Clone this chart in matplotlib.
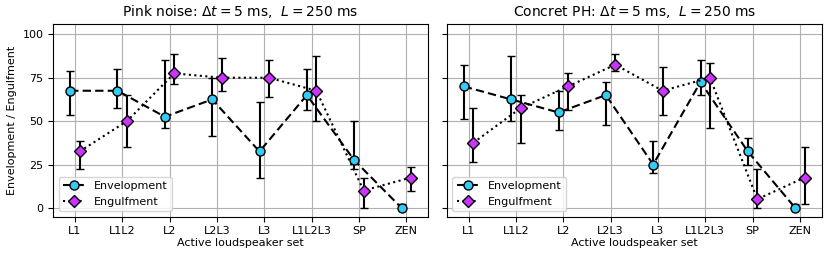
import numpy as np
import matplotlib
matplotlib.use("Agg")
import matplotlib.pyplot as plt

sets = ["L1", "L1L2", "L2", "L2L3", "L3", "L1L2L3", "SP", "ZEN"]
titles = [r"Pink noise: $\Delta t = 5$ ms,  $L = 250$ ms",
          r"Concret PH: $\Delta t = 5$ ms,  $L = 250$ ms"]

# median, lower and upper quartile per set
env_pink = [67.5, 67.5, 52.5, 62.5, 32.5, 65.0, 27.5, 0.0]
env_pink_lo = [53.75, 57.5, 46.25, 41.25, 17.5, 56.25, 22.5, 0.0]
env_pink_hi = [78.75, 80.0, 85.0, 75.0, 61.25, 80.0, 50.0, 2.5]
eng_pink = [32.5, 50.0, 77.5, 75.0, 75.0, 67.5, 10.0, 17.5]
eng_pink_lo = [22.5, 35.0, 71.25, 67.5, 63.75, 50.0, 0.0, 10.0]
eng_pink_hi = [38.75, 65.0, 88.75, 86.25, 85.0, 87.5, 17.5, 23.75]

env_conc = [70.0, 62.5, 55.0, 65.0, 25.0, 72.5, 32.5, 0.0]
env_conc_lo = [51.25, 50.0, 45.0, 47.5, 20.0, 65.0, 25.0, 0.0]
env_conc_hi = [82.5, 87.5, 67.5, 72.5, 38.75, 85.0, 40.0, 2.5]
eng_conc = [37.5, 57.5, 70.0, 82.5, 67.5, 75.0, 5.0, 17.5]
eng_conc_lo = [26.25, 37.5, 56.25, 78.75, 53.75, 46.25, 0.0, 2.5]
eng_conc_hi = [57.5, 65.0, 77.5, 88.75, 81.25, 83.75, 22.5, 35.0]

panels = [
    (env_pink, env_pink_lo, env_pink_hi, eng_pink, eng_pink_lo, eng_pink_hi),
    (env_conc, env_conc_lo, env_conc_hi, eng_conc, eng_conc_lo, eng_conc_hi),
]

fig, axes = plt.subplots(1, 2, figsize=(8.3, 2.6), dpi=100, sharey=True)
fig.subplots_adjust(left=0.064, right=0.99, top=0.908, bottom=0.167, wspace=0.05)

x = np.arange(len(sets))
for ax, title, (env, env_lo, env_hi, eng, eng_lo, eng_hi) in zip(axes, titles, panels):
    env = np.array(env)
    eng = np.array(eng)
    env_err = [env - np.array(env_lo), np.array(env_hi) - env]
    eng_err = [eng - np.array(eng_lo), np.array(eng_hi) - eng]
    c1 = ax.errorbar(x - 0.1, env, yerr=env_err, fmt="o--", color="k", mfc="#33ccf5",
                     mec="k", ms=6.5, lw=1.5, elinewidth=1.5, capsize=3, dashes=(4, 2),
                     zorder=3)
    c2 = ax.errorbar(x + 0.1, eng, yerr=eng_err, fmt="D:", color="k", mfc="#cc33ff",
                     mec="k", ms=6.5, lw=1.5, elinewidth=1.5, capsize=3,
                     zorder=3)
    ax.set_xticks(x)
    ax.set_xticklabels(sets, fontsize=8)
    ax.tick_params(axis="y", labelsize=8)
    ax.set_yticks([0, 25, 50, 75, 100])
    ax.set_ylim(-5, 106)
    ax.grid(True, color="#b0b0b0", lw=0.8)
    ax.set_axisbelow(True)
    ax.set_xlabel("Active loudspeaker set", fontsize=8, labelpad=1)
    ax.set_title(title, fontsize=10)
    # legend shows only the line + marker, not the error bars
    ax.legend([c1[0], c2[0]], ["Envelopment", "Engulfment"], loc="lower left", fontsize=8)

axes[0].set_ylabel("Envelopment / Engulfment", fontsize=8)

fig.savefig("out.png", dpi=100)
